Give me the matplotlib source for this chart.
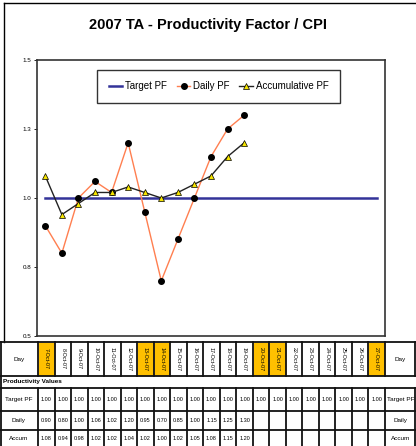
import matplotlib.pyplot as plt
import matplotlib.patches as mpatches
import numpy as np

plt.rcParams['font.family'] = ['Liberation Sans', 'DejaVu Sans']

# Data
days = ['7-Oct-07', '8-Oct-07', '9-Oct-07', '10-Oct-07', '11-Oct-07', '12-Oct-07',
        '13-Oct-07', '14-Oct-07', '15-Oct-07', '16-Oct-07', '17-Oct-07', '18-Oct-07',
        '19-Oct-07', '20-Oct-07', '21-Oct-07', '22-Oct-07', '23-Oct-07', '24-Oct-07',
        '25-Oct-07', '26-Oct-07', '27-Oct-07']
weekend = ['7-Oct-07', '13-Oct-07', '14-Oct-07', '20-Oct-07', '21-Oct-07', '27-Oct-07']
target_pf = [1.00] * 21
daily_pf = [0.90, 0.80, 1.00, 1.06, 1.02, 1.20, 0.95, 0.70, 0.85, 1.00, 1.15, 1.25, 1.30]
accum_pf = [1.08, 0.94, 0.98, 1.02, 1.02, 1.04, 1.02, 1.00, 1.02, 1.05, 1.08, 1.15, 1.20]
yticks = [0.5, 0.75, 1.0, 1.25, 1.5]
ytick_labels = ['0.5', '0.8', '1.0', '1.3', '1.5']

W, H = 416, 446
fig = plt.figure(figsize=(W / 100, H / 100), dpi=100)

def fx(px):
    return px / W

def fy(py):
    return 1 - py / H

# Chart area
left, right, top, bottom = 37, 385, 60, 336
ax = fig.add_axes([fx(left), fy(bottom), fx(right - left), (bottom - top) / H])
x = np.arange(len(days))
ax.plot(x, target_pf, color='#333399', lw=1.8, label='Target PF', zorder=2)
ax.plot(x[:len(daily_pf)], daily_pf, color='#FF7F50', lw=1.0, marker='o', ms=4,
        mfc='black', mec='black', label='Daily PF', zorder=3)
ax.plot(x[:len(accum_pf)], accum_pf, color='#222222', lw=1.0, marker='^', ms=4,
        mfc='#F5E400', mec='black', mew=0.5, label='Accumulative PF', zorder=4)
ax.set_xlim(-0.5, len(days) - 0.5)
ax.set_ylim(0.5, 1.5)
ax.set_yticks(yticks)
ax.set_yticklabels(ytick_labels, fontsize=4.5)
ax.set_xticks([])
ax.tick_params(axis='y', length=2, width=0.6, pad=2)
for s in ax.spines.values():
    s.set_linewidth(1.2)
    s.set_color('#333333')

leg = ax.legend(loc='upper center', bbox_to_anchor=(0.522, 0.982), ncol=3, fontsize=7,
                frameon=True, fancybox=False, handlelength=1.4, handletextpad=0.3,
                columnspacing=1.0, borderpad=1.2)
leg.get_frame().set_edgecolor('black')
leg.get_frame().set_linewidth(1.0)

fig.text(0.5, fy(25), '2007 TA - Productivity Factor / CPI', ha='center', va='center',
         fontsize=10.5, fontweight='bold')

# Overlay for borders and table
ov = fig.add_axes([0, 0, 1, 1], zorder=-1)
ov.set_xlim(0, W)
ov.set_ylim(H, 0)
ov.axis('off')

# outer chart border (top and left)
ov.plot([4, W], [3, 3], color='black', lw=1.0)
ov.plot([4, 4], [3, 342], color='black', lw=1.0)

col0, col_w = 38, (385 - 38) / len(days)
r_day = (342, 376)
r_pv = (376, 388)
r_tgt = (388, 411)
r_dly = (411, 430)
r_acc = (430, 452)
lc = '#111111'

def hline(y, x0=0, x1=W, lw=1.3):
    ov.plot([x0, x1], [y, y], color=lc, lw=lw)

def vline(xp, y0, y1, lw=1.3):
    ov.plot([xp, xp], [y0, y1], color=lc, lw=lw)

# Day row
for i, d in enumerate(days):
    cx0 = col0 + i * col_w
    if d in weekend:
        ov.add_patch(mpatches.Rectangle((cx0 + 1, r_day[0] + 1), col_w - 2,
                                        r_day[1] - r_day[0] - 2, color='#FFC000', zorder=0))
    ov.text(cx0 + col_w / 2, (r_day[0] + r_day[1]) / 2, d, rotation=270, ha='center',
            va='center', fontsize=3.9)
ov.text(col0 / 2, sum(r_day) / 2, 'Day', ha='center', va='center', fontsize=4.6)
ov.text((385 + W) / 2, sum(r_day) / 2, 'Day', ha='center', va='center', fontsize=4.6)

# Productivity values row
ov.text(3, sum(r_pv) / 2, 'Productivity Values', ha='left', va='center', fontsize=4.6,
        fontweight='bold')

rows = [('Target PF', target_pf, r_tgt), ('Daily', daily_pf, r_dly), ('Accum', accum_pf, r_acc)]
for name, vals, (y0, y1) in rows:
    yc = (y0 + y1) / 2 if name != 'Accum' else 438
    ov.text(col0 / 2, yc, name, ha='center', va='center', fontsize=4.6)
    ov.text((385 + W) / 2, yc, name, ha='center', va='center', fontsize=4.6)
    for i, v in enumerate(vals):
        ov.text(col0 + (i + 0.5) * col_w, yc, f'{v:.2f}', ha='center', va='center',
                fontsize=4.0)

# grid lines
for yy in [r_day[0], r_day[1], r_pv[1], r_tgt[1], r_dly[1]]:
    hline(yy)
for i in range(len(days) + 1):
    xp = col0 + i * col_w
    vline(xp, r_day[0], r_day[1])
    vline(xp, r_tgt[0], H)
vline(0.7, r_day[0], H)
vline(W - 0.7, r_day[0], r_day[1])
vline(W - 0.7, r_tgt[0], H)

fig.savefig('out.png', dpi=100)
